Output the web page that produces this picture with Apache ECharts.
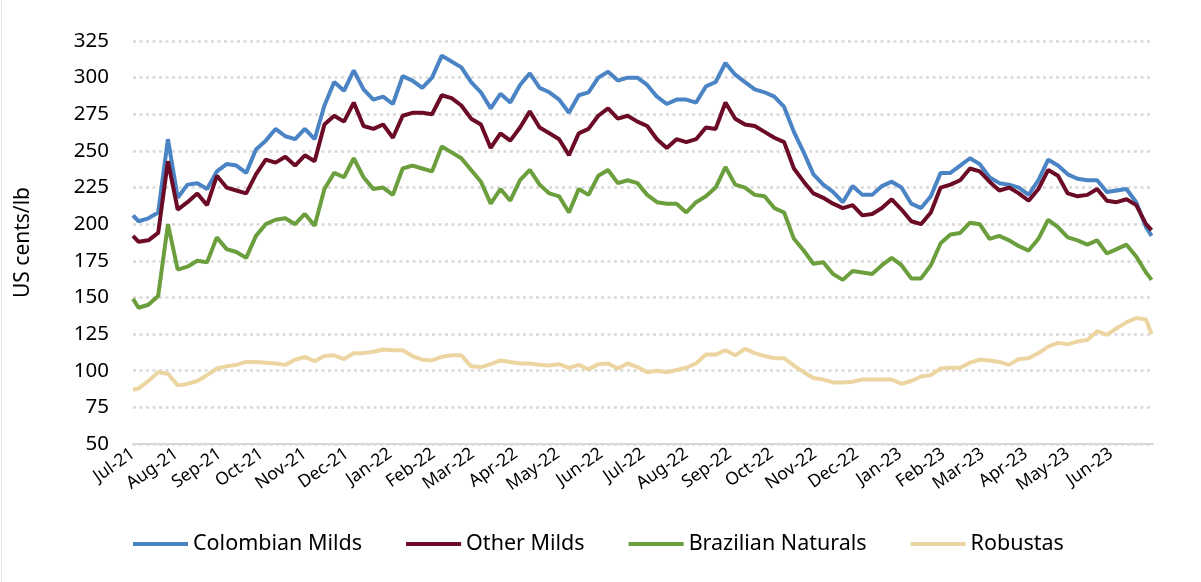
<!DOCTYPE html>
<html>
<head>
    <meta charset="utf-8">
    <title>Coffee prices</title>
    <script src="https://cdn.jsdelivr.net/npm/echarts@6.0.0/dist/echarts.min.js"></script>
    <style>
        html, body { margin: 0; padding: 0; background: #fff; }
        #chart { width: 1201px; height: 582px; }
    </style>
</head>
<body>
<div id="chart"></div>

<script>
    // weekly readings: 1 Jul 2021, then every Monday from 5 Jul 2021, then 30 Jun 2023
    const dates = ['2021-07-01'];
    for (let i = 0; i < 104; i++) {
        const d = new Date(Date.UTC(2021, 6, 5 + 7 * i));
        dates.push(d.toISOString().slice(0, 10));
    }
    dates.push('2023-06-30');

    const monthNames = ['Jan', 'Feb', 'Mar', 'Apr', 'May', 'Jun', 'Jul', 'Aug', 'Sep', 'Oct', 'Nov', 'Dec'];
    const seriesNames = ['Colombian Milds', 'Other Milds', 'Brazilian Naturals', 'Robustas'];

    const colombian = [206,
        202, 204, 208, 258, 218, 227, 228, 224, 236, 241, 240, 235, 251, 257, 265, 260, 258,
        265, 258, 281, 297, 291, 305, 292, 285, 287, 282, 301, 298, 293, 300, 315, 311, 307,
        297, 290, 279, 289, 283, 295, 303, 293, 290, 285, 276, 288, 290, 300, 304, 298, 300,
        300, 295, 287, 282, 285, 285, 283, 294, 297, 310, 302, 297, 292, 290, 287, 280, 263,
        249, 234, 227, 222, 215, 226, 220, 220, 226, 229, 225, 214, 211, 219, 235, 235, 240,
        245, 241, 232, 228, 227, 225, 220, 230, 244, 240, 234, 231, 230, 230, 222, 223, 224,
        215, 198, 192];
    const otherMilds = [192,
        188, 189, 194, 243, 210, 215, 221, 213, 233, 225, 223, 221, 234, 244, 242, 246, 240,
        247, 243, 268, 274, 270, 283, 267, 265, 268, 259, 274, 276, 276, 275, 288, 286, 281,
        272, 268, 252, 262, 257, 266, 277, 266, 262, 258, 247, 262, 265, 274, 279, 272, 274,
        270, 267, 258, 252, 258, 256, 258, 266, 265, 283, 272, 268, 267, 263, 259, 256, 238,
        229, 221, 218, 214, 211, 213, 206, 207, 211, 217, 210, 202, 200, 208, 225, 227, 230,
        238, 236, 229, 223, 225, 221, 216, 224, 237, 233, 221, 219, 220, 224, 216, 215, 217,
        213, 200, 196];
    const brazilian = [149,
        143, 145, 151, 200, 169, 171, 175, 174, 191, 183, 181, 177, 192, 200, 203, 204, 200,
        207, 199, 224, 235, 232, 245, 232, 224, 225, 220, 238, 240, 238, 236, 253, 249, 245,
        237, 229, 214, 224, 216, 230, 237, 227, 221, 219, 208, 224, 220, 233, 237, 228, 230,
        228, 220, 215, 214, 214, 208, 215, 219, 225, 239, 227, 225, 220, 219, 211, 208, 190,
        182, 173, 174, 166, 162, 168, 167, 166, 172, 177, 172, 163, 163, 172, 187, 193, 194,
        201, 200, 190, 192, 189, 185, 182, 190, 203, 198, 191, 189, 186, 189, 180, 183, 186,
        178, 167, 162];
    const robustas = [87,
        88, 93, 99, 98, 90, 91, 93, 97, 101.5, 103, 104, 106, 106, 105.5, 105, 104, 107.5,
        109.5, 106.5, 110, 110.5, 108, 112, 112, 113, 114.5, 114, 114, 110, 107.5, 107, 109.5, 110.5, 110.5,
        103, 102.5, 104.5, 107, 106, 105, 105, 104, 103.5, 104.5, 102, 104, 101, 104.5, 105, 101.5, 105,
        102.5, 99, 100, 99, 100.5, 102, 105, 111, 111, 114, 110.5, 115, 112, 110, 108.5, 108.5, 103.5,
        99, 95, 94, 92, 92, 92.5, 94, 94, 94, 94, 91, 93, 96, 97, 101.5, 102, 102,
        105.5, 107.5, 107, 106, 104, 108, 108.5, 112, 116.5, 119, 118, 120, 121, 127, 124.5, 129, 133,
        136, 135, 125];

    const colors = ['#4a84c4', '#6c0b26', '#6b9e3c', '#ecd5a1'];
    const font = 'Noto Sans';
    const axisEnd = new Date(2023, 6, 1).getTime();

    const chart = echarts.init(document.getElementById('chart'));

    function pairs(values) {
        return dates.map((d, i) => [d, values[i]]);
    }

    chart.setOption({
        animation: false,
        textStyle: { fontFamily: font },
        color: colors,
        grid: { left: 133, right: 48, top: 41, bottom: 138 },
        graphic: [{
            type: 'line',
            shape: { x1: 1.5, y1: 0, x2: 1.5, y2: 582 },
            style: { stroke: '#e4e4e4', lineWidth: 1 }
        }],
        legend: {
            data: seriesNames,
            left: 128,
            top: 528,
            icon: 'rect',
            itemWidth: 55,
            itemHeight: 4,
            itemGap: 44,
            textStyle: { fontFamily: font, fontSize: 21.5, color: '#000' }
        },
        xAxis: {
            type: 'time',
            min: '2021-07-01',
            max: '2023-07-01',
            splitNumber: 24,
            minInterval: 28 * 86400000,
            maxInterval: 31 * 86400000,
            axisLine: { show: true, lineStyle: { color: '#d9d9d9', width: 2 } },
            axisTick: { show: false },
            splitLine: { show: false },
            axisLabel: {
                rotate: 35,
                fontSize: 17.5,
                color: '#000',
                margin: 8,
                hideOverlap: false,
                formatter: function (v) {
                    if (v >= axisEnd) return '';
                    const d = new Date(v);
                    return monthNames[d.getMonth()] + '-' + String(d.getFullYear()).slice(2);
                }
            }
        },
        yAxis: {
            type: 'value',
            min: 50,
            max: 325,
            interval: 25,
            name: 'US cents/lb',
            nameLocation: 'middle',
            nameGap: 99,
            nameTextStyle: { fontFamily: font, fontSize: 21, color: '#000' },
            axisLine: { show: false },
            axisTick: { show: false },
            axisLabel: { fontSize: 20.5, color: '#000', margin: 24 },
            splitLine: { lineStyle: { color: '#d9d9d9', width: 2.5, type: [3, 3.5] } }
        },
        series: seriesNames.map((name, k) => ({
            name: name,
            type: 'line',
            showSymbol: false,
            symbol: 'none',
            lineStyle: { width: 4, color: colors[k] },
            data: pairs([colombian, otherMilds, brazilian, robustas][k])
        }))
    });
</script>
</body>
</html>
